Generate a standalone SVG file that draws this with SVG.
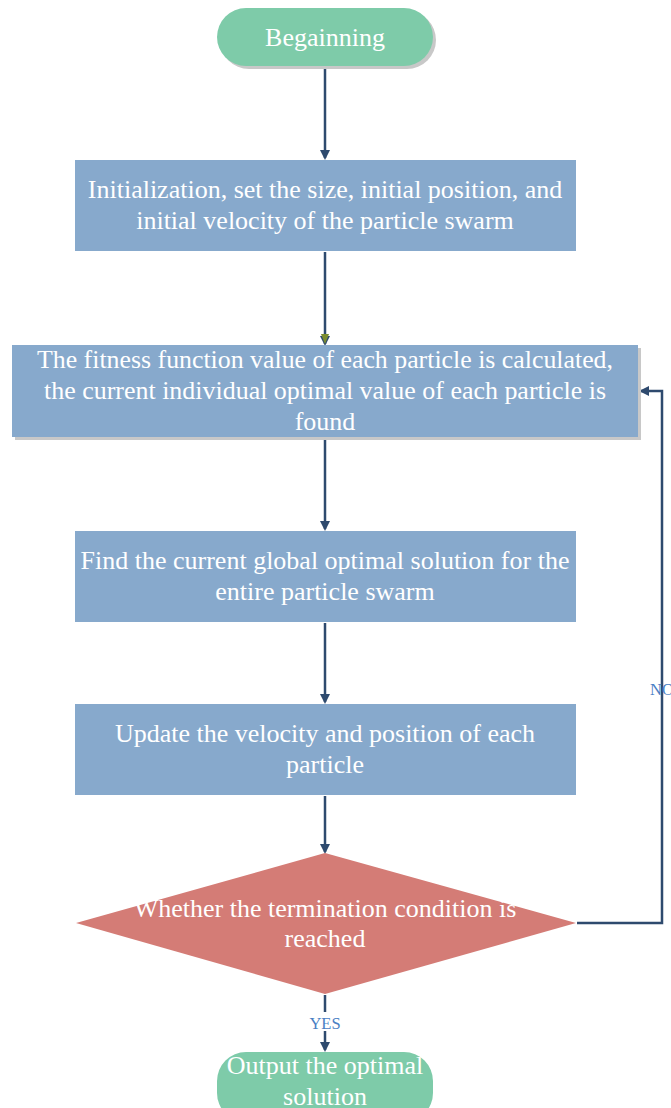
<svg xmlns="http://www.w3.org/2000/svg" width="671" height="1108" viewBox="0 0 671 1108">
<style>
.t{font-family:"Liberation Serif","Times New Roman",serif;font-size:26px;fill:#ffffff;text-anchor:middle}
.lbl{font-family:"Liberation Serif","Times New Roman",serif;font-size:16.5px;fill:#4a80c4;text-anchor:middle}
.box{fill:#87a9cc}
.term{fill:#7ecba9}
.sh{fill:#c8c8c8}
.ln{fill:none;stroke:#2e4a6e;stroke-width:2.5}
</style>
<defs>
<marker id="ah" markerWidth="10" markerHeight="10" refX="8" refY="5" orient="auto" markerUnits="userSpaceOnUse">
<path d="M0,0 L10,5 L0,10 Z" fill="#2e4a6e"/>
</marker>
</defs>
<rect width="671" height="1108" fill="#ffffff"/>
<g id="connectors">
<path class="ln" d="M325,66 V158" marker-end="url(#ah)"/>
<path class="ln" d="M325,252 V344" marker-end="url(#ah)"/>
<path d="M321,334 L329,334 L325,344 Z" fill="#7a8c2e"/>
<path class="ln" d="M325,438 V529" marker-end="url(#ah)"/>
<path class="ln" d="M325,623 V702" marker-end="url(#ah)"/>
<path class="ln" d="M325,796 V852" marker-end="url(#ah)"/>
<path class="ln" d="M577,923 H662 V391 H641" marker-end="url(#ah)"/>
<path class="ln" d="M325,995 V1012"/>
<path class="ln" d="M325,1031 V1050" marker-end="url(#ah)"/>
<text class="lbl" x="662" y="695">NO</text>
<text class="lbl" x="325" y="1029">YES</text>
</g>
<g id="start">
<rect class="sh" x="220" y="11" width="216" height="58" rx="29"/>
<rect class="term" x="217" y="8" width="216" height="58" rx="29"/>
<text class="t" x="325" y="46">Begainning</text>
</g>
<g id="init">
<rect class="box" x="75" y="160" width="501" height="91"/>
<text class="t" x="325" y="198">Initialization, set the size, initial position, and</text>
<text class="t" x="325" y="229">initial velocity of the particle swarm</text>
</g>
<g id="fitness">
<rect class="sh" x="15" y="348" width="626" height="92"/>
<rect class="box" x="12" y="345" width="626" height="92"/>
<text class="t" x="325" y="368" textLength="576" lengthAdjust="spacingAndGlyphs">The fitness function value of each particle is calculated,</text>
<text class="t" x="325" y="399" textLength="562" lengthAdjust="spacingAndGlyphs">the current individual optimal value of each particle is</text>
<text class="t" x="325" y="430">found</text>
</g>
<g id="global">
<rect class="box" x="75" y="531" width="501" height="91"/>
<text class="t" x="325" y="569">Find the current global optimal solution for the</text>
<text class="t" x="325" y="600">entire particle swarm</text>
</g>
<g id="update">
<rect class="box" x="75" y="704" width="501" height="91"/>
<text class="t" x="325" y="742">Update the velocity and position of each</text>
<text class="t" x="325" y="773">particle</text>
</g>
<g id="decision">
<path d="M325,853 L576,923 L325,994 L76,923 Z" fill="#d47c76"/>
<text class="t" x="325" y="917">Whether the termination condition is</text>
<text class="t" x="325" y="947">reached</text>
</g>
<g id="end">
<rect class="term" x="217" y="1052" width="216" height="70" rx="29"/>
<text class="t" x="325" y="1074">Output the optimal</text>
<text class="t" x="325" y="1105">solution</text>
</g>
</svg>
